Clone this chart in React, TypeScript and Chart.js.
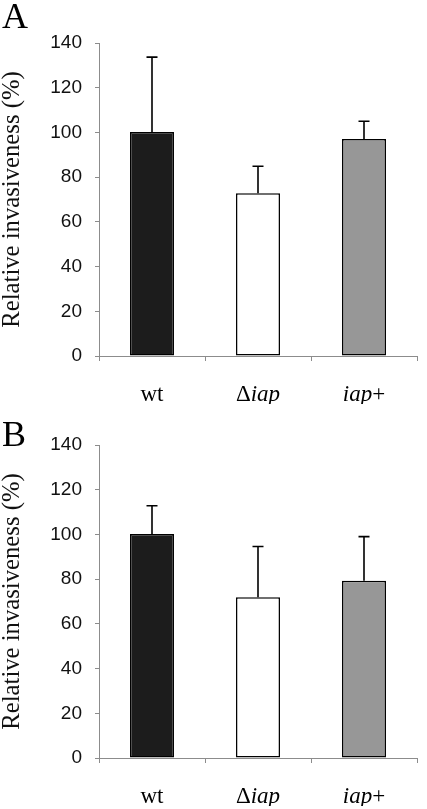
import React, { useEffect, useRef } from "react";
import { Chart, registerables } from "chart.js";

Chart.register(...registerables);

const categories = ["wt", "Δiap", "iap+"];
const italicParts = ["", "iap", "iap"];
const valuesA = [100.2, 72.8, 97.1];
const errorsA = [33.5, 12.1, 7.9];
const valuesB = [100.2, 71.9, 79.3];
const errorsB = [12.6, 22.7, 19.7];
const yTicks = [0, 20, 40, 60, 80, 100, 120, 140];
const barColors = ["#1c1c1c", "#ffffff", "#979797"];
const yTitle = "Relative invasiveness (%)";

const AXIS = "#8c8c8c";

function makePlugins(errors: number[]) {
  const errorBars = {
    id: "errorBars",
    afterDatasetsDraw(chart: any) {
      const ctx = chart.ctx;
      const meta = chart.getDatasetMeta(0);
      const y = chart.scales.y;
      const ds = chart.data.datasets[0];
      ctx.save();
      ctx.strokeStyle = "#000";
      ctx.lineWidth = 1.6;
      meta.data.forEach((bar: any, i: number) => {
        const v = ds.data[i] as number;
        const x = bar.x;
        const y0 = y.getPixelForValue(v);
        const y1 = y.getPixelForValue(v + errors[i]);
        ctx.beginPath();
        ctx.moveTo(x, y0);
        ctx.lineTo(x, y1);
        ctx.moveTo(x - 5.5, y1);
        ctx.lineTo(x + 5.5, y1);
        ctx.stroke();
      });
      ctx.restore();
    },
  };
  const xLabels = {
    id: "xLabels",
    afterDraw(chart: any) {
      const ctx = chart.ctx;
      const xs = chart.scales.x;
      const baseY = chart.chartArea.bottom + 45;
      ctx.save();
      ctx.fillStyle = "#000";
      ctx.textBaseline = "alphabetic";
      ctx.textAlign = "left";
      categories.forEach((label, i) => {
        const it = italicParts[i];
        const segs: { t: string; it: boolean }[] = [];
        if (it && label.indexOf(it) >= 0) {
          const k = label.indexOf(it);
          if (k > 0) segs.push({ t: label.slice(0, k), it: false });
          segs.push({ t: it, it: true });
          if (k + it.length < label.length) segs.push({ t: label.slice(k + it.length), it: false });
        } else {
          segs.push({ t: label, it: false });
        }
        const fontFor = (s: { it: boolean }) =>
          (s.it ? "italic " : "") + '23px "Liberation Serif", serif';
        let total = 0;
        segs.forEach((s) => {
          ctx.font = fontFor(s);
          total += ctx.measureText(s.t).width;
        });
        let x = xs.getPixelForValue(i) - total / 2;
        segs.forEach((s) => {
          ctx.font = fontFor(s);
          ctx.fillText(s.t, x, baseY);
          x += ctx.measureText(s.t).width;
        });
      });
      ctx.restore();
    },
  };
  return [errorBars, xLabels];
}

function Panel({ values, errors, top, letter, letterTop }: any) {
  const ref = useRef<HTMLCanvasElement>(null);
  useEffect(() => {
    const canvas = ref.current!;
    const chart = new Chart(canvas, {
      type: "bar",
      data: {
        labels: categories,
        datasets: [
          {
            data: values,
            backgroundColor: barColors,
            borderColor: "#000",
            borderWidth: 1.5,
            borderSkipped: false,
            categoryPercentage: 1,
            barPercentage: 0.415,
          },
        ],
      },
      options: {
        responsive: false,
        animation: false,
        events: [],
        layout: { padding: { top: 43, right: 10, bottom: 0, left: 0 } },
        plugins: { legend: { display: false }, tooltip: { enabled: false } },
        scales: {
          x: {
            offset: true,
            grid: {
              offset: true,
              drawOnChartArea: false,
              drawTicks: true,
              tickLength: 5,
              color: AXIS,
              lineWidth: 1,
            },
            border: { display: true, color: AXIS, width: 1 },
            ticks: { display: false },
            afterFit: (s: any) => {
              s.height = 48;
            },
          },
          y: {
            min: 0,
            max: 140,
            afterBuildTicks: (s: any) => {
              s.ticks = yTicks.map((v) => ({ value: v }));
            },
            grid: {
              drawOnChartArea: false,
              drawTicks: true,
              tickLength: 4,
              color: AXIS,
              lineWidth: 1,
            },
            border: { display: true, color: AXIS, width: 1 },
            ticks: {
              padding: 13,
              color: "#111",
              font: { family: '"Liberation Sans", Arial, sans-serif', size: 19 },
            },
            title: {
              display: true,
              text: yTitle,
              color: "#111",
              padding: 0,
              font: { family: '"Liberation Serif", serif', size: 24.7, lineHeight: 1 },
            },
            afterFit: (s: any) => {
              s.width = 99;
            },
          },
        },
      },
      plugins: makePlugins(errors),
    });
    return () => chart.destroy();
  }, []);
  return (
    <>
      <canvas
        ref={ref}
        width={427}
        height={404}
        style={{ position: "absolute", left: 0, top, width: 427, height: 404, display: "block" }}
      />
      <div
        style={{
          position: "absolute",
          left: 2,
          top: letterTop,
          fontFamily: '"Liberation Serif", serif',
          fontSize: 36,
          lineHeight: "36px",
          color: "#000",
        }}
      >
        {letter}
      </div>
    </>
  );
}

export default function App() {
  return (
    <div style={{ position: "absolute", left: 0, top: 0, width: 427, height: 809, background: "#fff" }}>
      <Panel values={valuesA} errors={errorsA} top={0} letter="A" letterTop={-2} />
      <Panel values={valuesB} errors={errorsB} top={402} letter="B" letterTop={416} />
    </div>
  );
}
